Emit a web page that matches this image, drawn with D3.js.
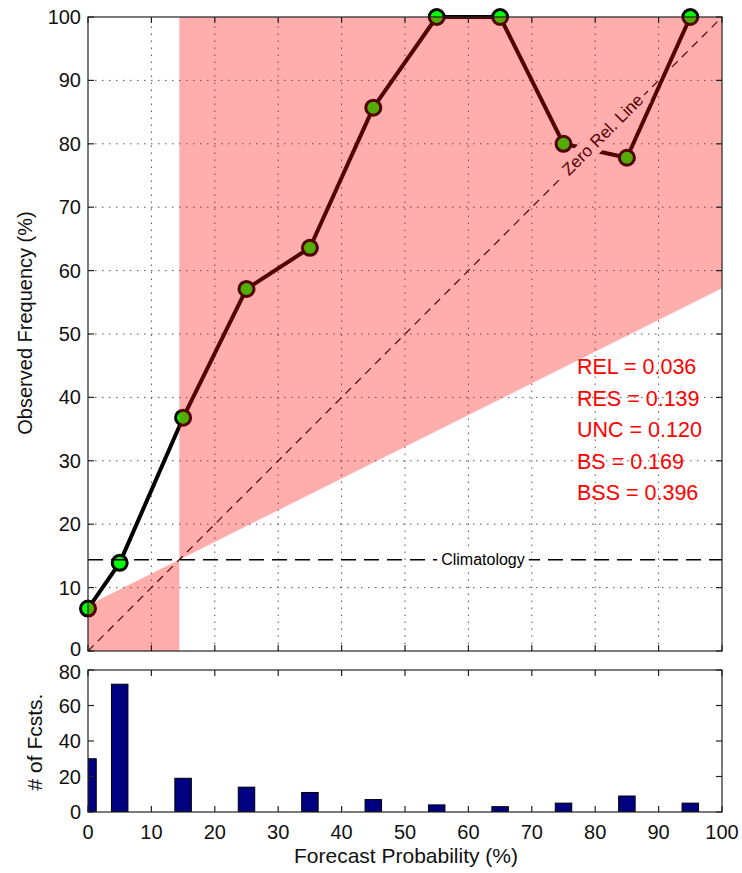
<!DOCTYPE html>
<html>
<head>
<meta charset="utf-8">
<script src="https://cdn.jsdelivr.net/npm/d3@7"></script>
<style>
  body { margin: 0; background: #fff; }
  text { font-family: "Liberation Sans", Arial, sans-serif; }
</style>
</head>
<body>
<svg id="chart"></svg>
<script>
// reliability data
const binCenters = [0, 5, 15, 25, 35, 45, 55, 65, 75, 85, 95];
const obsFreq = [6.7, 13.9, 36.8, 57.1, 63.6, 85.7, 100, 100, 80, 77.8, 100];
const fcstCounts = [30, 72, 19, 14, 11, 7, 4, 3, 5, 9, 5];
const climatology = 14.4;
const statLabels = ['REL = 0.036', 'RES = 0.139', 'UNC = 0.120', 'BS = 0.169', 'BSS = 0.396'];
const probTicks = [0, 10, 20, 30, 40, 50, 60, 70, 80, 90, 100];
const freqTicks = [0, 10, 20, 30, 40, 50, 60, 70, 80, 90, 100];
const countTicks = [0, 20, 40, 60, 80];

const W = 742, H = 873;
const svg = d3.select('#chart').attr('width', W).attr('height', H);

const x = d3.scaleLinear().domain([0, 100]).range([88, 722]);
const y = d3.scaleLinear().domain([0, 100]).range([651, 17]);
const yh = d3.scaleLinear().domain([0, 80]).range([812, 670]);

const defs = svg.append('defs');
defs.append('clipPath').attr('id', 'clipMain').append('rect')
	.attr('x', x(0)).attr('y', y(100)).attr('width', x(100) - x(0)).attr('height', y(0) - y(100));
defs.append('clipPath').attr('id', 'clipHist').append('rect')
	.attr('x', x(0)).attr('y', yh(80)).attr('width', x(100) - x(0)).attr('height', yh(0) - yh(80));

// ---- main panel ----
const main = svg.append('g');

// dotted grid
main.selectAll('.vgrid').data(probTicks.slice(1, -1)).enter().append('line')
	.attr('x1', d => x(d)).attr('x2', d => x(d)).attr('y1', y(0)).attr('y2', y(100))
	.attr('stroke', '#555').attr('stroke-width', 1).attr('stroke-dasharray', '1.5,5.5');
main.selectAll('.hgrid').data(freqTicks.slice(1, -1)).enter().append('line')
	.attr('x1', x(0)).attr('x2', x(100)).attr('y1', d => y(d)).attr('y2', d => y(d))
	.attr('stroke', '#555').attr('stroke-width', 1).attr('stroke-dasharray', '1.5,5.5');

// reliability curve
const pts = binCenters.map((b, i) => [b, obsFreq[i]]);
const line = d3.line().x(d => x(d[0])).y(d => y(d[1]));
main.append('path').datum(pts).attr('d', line)
	.attr('fill', 'none').attr('stroke', '#000').attr('stroke-width', 4).attr('stroke-linejoin', 'round');
main.selectAll('.pt').data(pts).enter().append('circle')
	.attr('cx', d => x(d[0])).attr('cy', d => y(d[1])).attr('r', 7.5)
	.attr('fill', '#00ff00').attr('stroke', '#000').attr('stroke-width', 3);

// zero reliability (diagonal) line
main.append('line')
	.attr('x1', x(0)).attr('y1', y(0)).attr('x2', x(100)).attr('y2', y(100))
	.attr('stroke', '#000').attr('stroke-width', 1.2).attr('stroke-dasharray', '8,6');

// climatology line
main.append('line')
	.attr('x1', x(0)).attr('x2', x(100)).attr('y1', y(climatology)).attr('y2', y(climatology))
	.attr('stroke', '#000').attr('stroke-width', 1.6).attr('stroke-dasharray', '15,8');

function labelWithBox(g, text, cx, cy, rot, size) {
	const lg = g.append('g').attr('transform', 'translate(' + cx + ',' + cy + ') rotate(' + rot + ')');
	const bg = lg.append('rect').attr('fill', '#fff');
	const t = lg.append('text').attr('text-anchor', 'middle').attr('dominant-baseline', 'central')
		.attr('font-size', size).attr('fill', '#000').text(text);
	const bb = t.node().getBBox();
	bg.attr('x', bb.x - 4).attr('y', bb.y - 1).attr('width', bb.width + 8).attr('height', bb.height + 2);
}
labelWithBox(main, 'Climatology', x(62.3), y(climatology), 0, 16);
labelWithBox(main, 'Zero Rel. Line', x(81.2), y(81.4), -45, 17);

// skill region (semi-transparent overlay)
const noSkill = v => (v + climatology) / 2;
const skillLow = [[0, 0], [climatology, 0], [climatology, climatology], [0, noSkill(0)]];
const skillHigh = [[climatology, climatology], [climatology, 100], [100, 100], [100, noSkill(100)]];
main.selectAll('.skill').data([skillLow, skillHigh]).enter().append('path')
	.attr('clip-path', 'url(#clipMain)')
	.attr('d', d => d3.line().x(p => x(p[0])).y(p => y(p[1]))(d) + 'Z')
	.attr('fill', '#ff0000').attr('fill-opacity', 0.32);

// brier score stats
main.selectAll('.stat').data(statLabels).enter().append('text')
	.attr('x', 577).attr('y', (d, i) => 374 + i * 31.5)
	.attr('font-size', 21.5).attr('fill', '#ff0000').text(d => d);

// axes with inward ticks on all sides
function boxAxes(g, xs, ys, xt, yt, xLabels, tick, nudge) {
	const x0 = xs.range()[0], x1 = xs.range()[1], y0 = ys.range()[0], y1 = ys.range()[1];
	g.append('rect').attr('x', x0).attr('y', y1).attr('width', x1 - x0).attr('height', y0 - y1)
		.attr('fill', 'none').attr('stroke', '#222').attr('stroke-width', 1.2);
	xt.forEach(v => {
		g.append('line').attr('x1', xs(v)).attr('x2', xs(v)).attr('y1', y0).attr('y2', y0 - tick).attr('stroke', '#222').attr('stroke-width', 1.2);
		g.append('line').attr('x1', xs(v)).attr('x2', xs(v)).attr('y1', y1).attr('y2', y1 + tick).attr('stroke', '#222').attr('stroke-width', 1.2);
		if (xLabels) g.append('text').attr('x', xs(v)).attr('y', y0 + 27).attr('text-anchor', 'middle')
			.attr('font-size', 20).attr('fill', '#111').text(v);
	});
	yt.forEach(v => {
		g.append('line').attr('x1', x0).attr('x2', x0 + tick).attr('y1', ys(v)).attr('y2', ys(v)).attr('stroke', '#222').attr('stroke-width', 1.2);
		g.append('line').attr('x1', x1).attr('x2', x1 - tick).attr('y1', ys(v)).attr('y2', ys(v)).attr('stroke', '#222').attr('stroke-width', 1.2);
		// the bottom label of the upper panel and top label of the lower one sit close, nudge apart
		const off = nudge ? nudge(v) : 0;
		g.append('text').attr('x', x0 - 7).attr('y', ys(v) + off).attr('dy', '0.35em').attr('text-anchor', 'end')
			.attr('font-size', 20).attr('fill', '#111').text(v);
	});
}
boxAxes(main, x, y, probTicks, freqTicks, false, 6, v => v === 0 ? -2 : 0);

svg.append('text').attr('transform', 'translate(32,323) rotate(-90)')
	.attr('text-anchor', 'middle').attr('font-size', 20).attr('fill', '#111').text('Observed Frequency (%)');

// ---- histogram panel ----
const hist = svg.append('g');
const barW = x(2.6) - x(0);
hist.append('g').attr('clip-path', 'url(#clipHist)')
	.selectAll('rect').data(binCenters.map((b, i) => [b, fcstCounts[i]])).enter().append('rect')
	.attr('x', d => x(d[0]) - barW / 2).attr('width', barW)
	.attr('y', d => yh(d[1])).attr('height', d => yh(0) - yh(d[1]))
	.attr('fill', '#000080').attr('stroke', '#000').attr('stroke-width', 1);
boxAxes(hist, x, yh, probTicks, countTicks, true, 6, v => v === 80 ? 2 : 0);

svg.append('text').attr('transform', 'translate(42,742) rotate(-90)')
	.attr('text-anchor', 'middle').attr('font-size', 21).attr('fill', '#111').text('# of Fcsts.');
svg.append('text').attr('x', 406).attr('y', 863)
	.attr('text-anchor', 'middle').attr('font-size', 21).attr('fill', '#111').text('Forecast Probability (%)');
</script>
</body>
</html>
